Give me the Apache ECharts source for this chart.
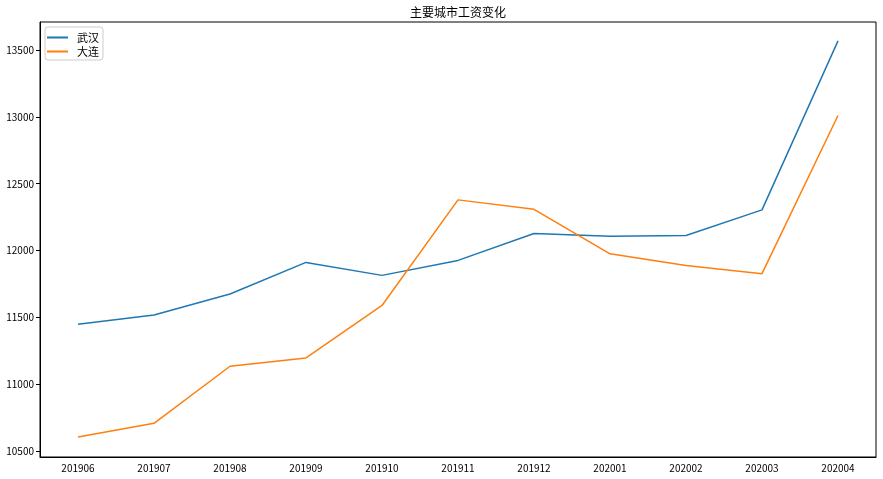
<!DOCTYPE html>
<html>
<head>
<meta charset="utf-8">
<script src="https://cdn.jsdelivr.net/npm/echarts@6/dist/echarts.min.js"></script>
<style>html,body{margin:0;padding:0;background:#fff}#c{width:883px;height:479px}</style>
</head>
<body>
<div id="c"></div>
<script>
const categories = ['201906','201907','201908','201909','201910','201911','201912','202001','202002','202003','202004'];
const wuhan = [11448, 11518, 11675, 11911, 11814, 11926, 12128, 12106, 12113, 12304, 13569];
const dalian = [10605, 10707, 11134, 11196, 11589, 12379, 12308, 11975, 11888, 11827, 13010];
const yTicks = [10500, 11000, 11500, 12000, 12500, 13000, 13500];

const font = '"Noto Sans CJK SC", "DejaVu Sans", sans-serif';
const chart = echarts.init(document.getElementById('c'), null, {renderer: 'canvas'});
chart.setOption({
  animation: false,
  backgroundColor: '#fff',
  title: {
    text: '主要城市工资变化', left: 458, textAlign: 'center', top: 6, padding: 0,
    textStyle: {fontSize: 12, fontWeight: 'normal', color: '#000', fontFamily: font}
  },
  legend: {
    orient: 'vertical', left: 45, top: 27,
    itemWidth: 21, itemHeight: 2, icon: 'rect', itemGap: 3,
    padding: [5, 4, 3, 2],
    borderColor: '#ccc', borderWidth: 1, borderRadius: 3,
    textStyle: {fontSize: 11, color: '#000', fontFamily: font, padding: [0, 0, 0, 4]},
    data: ['武汉', '大连']
  },
  grid: {left: 40, right: 7, top: 22, bottom: 22, show: true, borderColor: '#000', borderWidth: 1, containLabel: false},
  xAxis: {
    type: 'category', data: categories, boundaryGap: true,
    axisLine: {lineStyle: {color: '#000'}},
    axisTick: {alignWithLabel: true, length: 4, lineStyle: {color: '#000'}},
    axisLabel: {color: '#000', fontSize: 10, margin: 6, fontFamily: font},
    splitLine: {show: false}
  },
  yAxis: {
    type: 'value', min: 10455, max: 13710,
    axisLine: {show: true, lineStyle: {color: '#000'}},
    axisTick: {show: true, length: 4, customValues: yTicks, lineStyle: {color: '#000'}},
    axisLabel: {color: '#000', fontSize: 10, margin: 6, fontFamily: font, customValues: yTicks, formatter: v => String(v)},
    splitLine: {show: false}
  },
  series: [
    {name: '武汉', type: 'line', data: wuhan, symbol: 'none', lineStyle: {color: '#1f77b4', width: 1.5}, itemStyle: {color: '#1f77b4'}},
    {name: '大连', type: 'line', data: dalian, symbol: 'none', lineStyle: {color: '#ff7f0e', width: 1.5}, itemStyle: {color: '#ff7f0e'}}
  ]
});
</script>
</body>
</html>
